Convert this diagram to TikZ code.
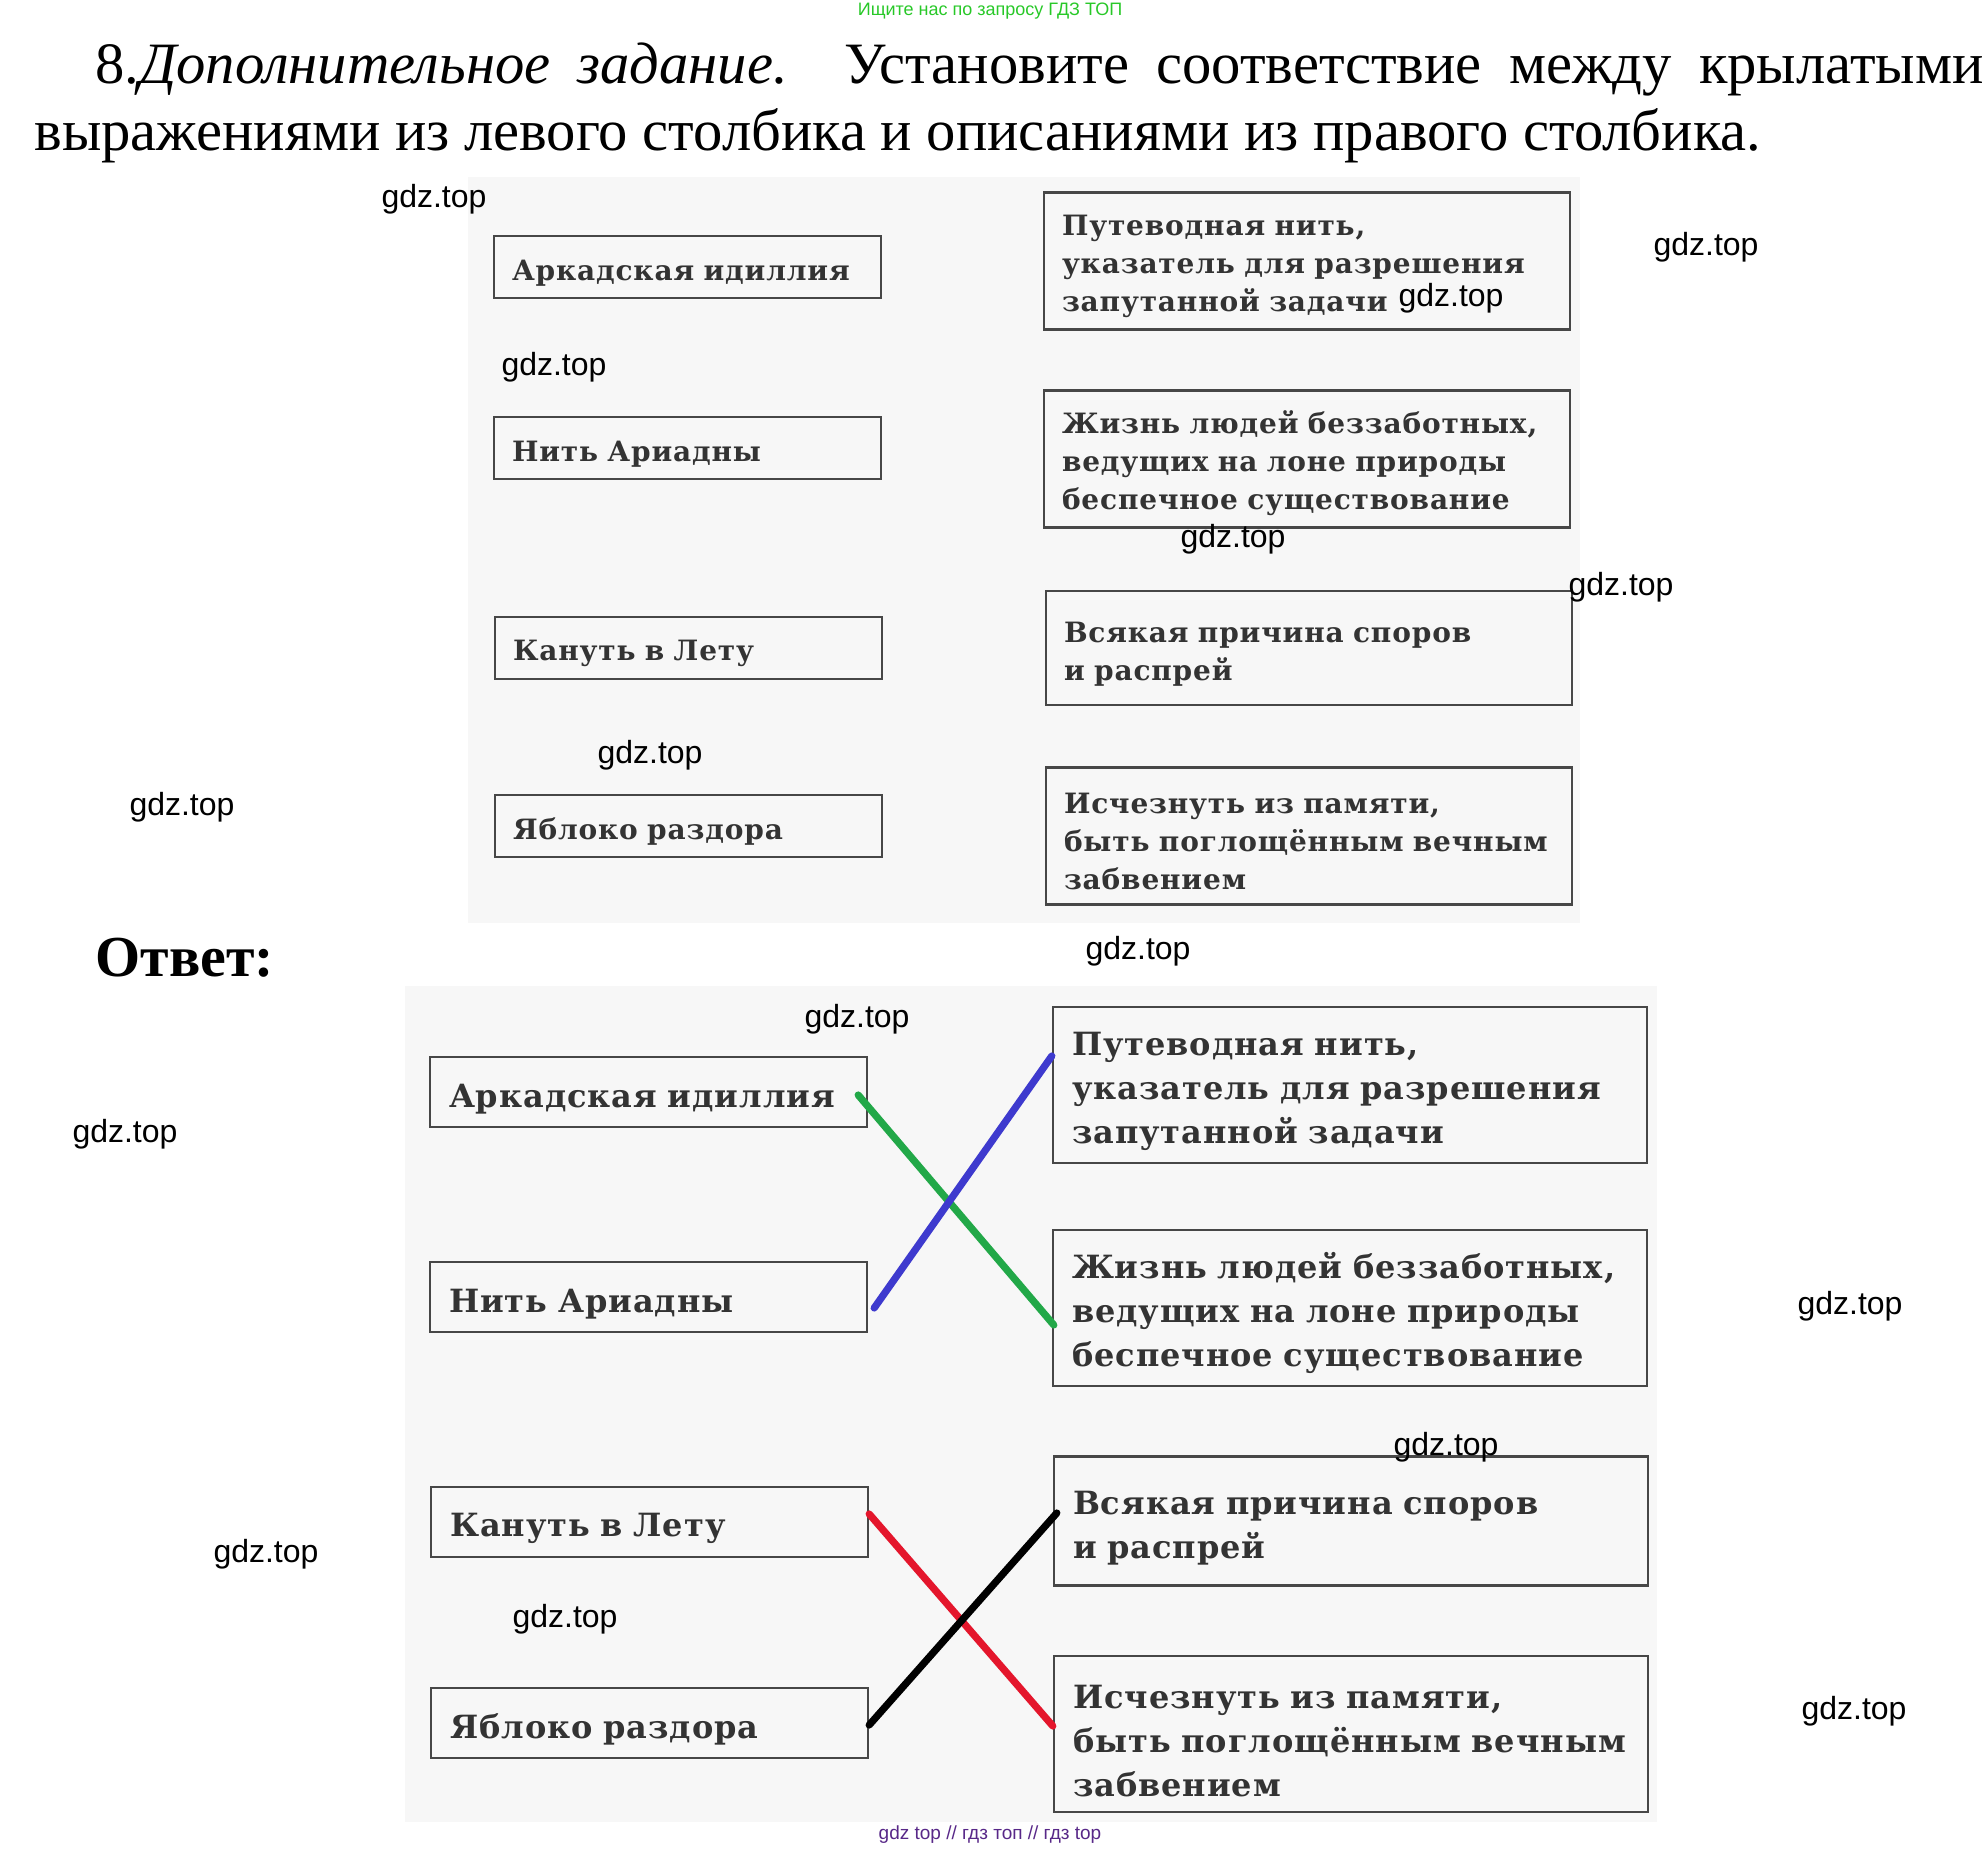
\documentclass[tikz,border=0pt]{standalone}
\usepackage{fontspec}
\setmainfont{Liberation Serif}
\newfontfamily\bookfont[WordSpace=1.6, LetterSpace=3]{DejaVu Serif}
\newfontfamily\markfont{Liberation Sans}
\definecolor{linegreen}{RGB}{34,168,72}
\definecolor{lineblue}{RGB}{62,58,206}
\definecolor{linered}{RGB}{228,22,44}
\definecolor{headgreen}{RGB}{40,200,40}
\definecolor{footpurple}{RGB}{88,40,136}

\begin{document}
\begin{tikzpicture}[
    x=0.5pt, y=-0.5pt,
    page/.style={fill=black!3, draw=none},
    card/.style={rectangle, draw=black!72, line width=1.2pt, align=left,
        text=black!80, inner ysep=0pt, execute at begin node={\rule{0pt}{1.15em}}},
    qleft/.style={card, text width=175.5pt, inner xsep=9pt,
        minimum height=31pt, font=\bookfont\bfseries\fontsize{14}{19}\selectfont},
    qright/.style={card, text width=245pt, inner xsep=9pt,
        minimum height=68.5pt, font=\bookfont\bfseries\fontsize{14}{19}\selectfont},
    aleft/.style={card, text width=199.5pt, inner xsep=9.5pt,
        minimum height=35pt, font=\bookfont\bfseries\fontsize{16}{22}\selectfont},
    aright/.style={card, text width=278pt, inner xsep=9.5pt,
        minimum height=78pt, font=\bookfont\bfseries\fontsize{16}{22}\selectfont},
    stamp/.style={inner sep=0pt, font=\markfont\fontsize{16}{18}\selectfont},
    pair/.style={line width=3.6pt, line cap=round}
]
    \useasboundingbox (0,0) rectangle (1983,1850);
    \fill[page] (468,177) rectangle (1580,923);
    \fill[page] (405,986) rectangle (1657,1822);

    \node[inner sep=0pt, text=headgreen, font=\markfont\fontsize{9}{10}\selectfont] (head) at (990,11) {Ищите нас по запросу ГДЗ ТОП};
    \node[anchor=base west, inner sep=0pt, font=\fontsize{29.3}{35}\selectfont] (title1) at (95,84)
        {\makebox[944pt][s]{8.\textit{Дополнительное задание.} Установите соответствие между крылатыми}};
    \node[anchor=base west, inner sep=0pt, font=\fontsize{29.3}{35}\selectfont] (title2) at (34,151)
        {выражениями из левого столбика и описаниями из правого столбика.};

    % task
    \node[qleft] (qA1) at (687.5,267) {Аркадская идиллия};
    \node[qleft] (qA2) at (687.5,448) {Нить Ариадны};
    \node[qleft] (qA3) at (688.5,648) {Кануть в Лету};
    \node[qleft] (qA4) at (688.5,826) {Яблоко раздора};
    \node[qright] (qB1) at (1307,261) {Путеводная нить,\\указатель для разрешения\\запутанной задачи};
    \node[qright] (qB2) at (1307,459) {Жизнь людей беззаботных,\\ведущих на лоне природы\\беспечное существование};
    \node[qright, minimum height=57pt] (qB3) at (1309,648) {Всякая причина споров\\и распрей};
    \node[qright] (qB4) at (1309,836) {Исчезнуть из памяти,\\быть поглощённым вечным\\забвением};

    \node[anchor=base west, inner sep=0pt, font=\bfseries\fontsize{29}{34}\selectfont] (answer) at (95,976) {Ответ:};

    % answer
    \node[aleft] (aA1) at (648.5,1092) {Аркадская идиллия};
    \node[aleft] (aA2) at (648.5,1297) {Нить Ариадны};
    \node[aleft] (aA3) at (649.5,1522) {Кануть в Лету};
    \node[aleft] (aA4) at (649.5,1723) {Яблоко раздора};
    \node[aright] (aB1) at (1350,1085) {Путеводная нить,\\указатель для разрешения\\запутанной задачи};
    \node[aright] (aB2) at (1350,1308) {Жизнь людей беззаботных,\\ведущих на лоне природы\\беспечное существование};
    \node[aright, minimum height=64.5pt] (aB3) at (1351,1521) {Всякая причина споров\\и распрей};
    \node[aright] (aB4) at (1351,1734) {Исчезнуть из памяти,\\быть поглощённым вечным\\забвением};

    \draw[pair, linegreen] ([xshift=-5pt, yshift=-1.5pt]aA1.east) -- ([xshift=1pt, yshift=-8.5pt]aB2.west);
    \draw[pair, lineblue] ([xshift=3pt, yshift=-5.5pt]aA2.east) -- ([yshift=14.5pt]aB1.west);
    \draw[pair, linered] ([yshift=4pt]aA3.east) -- ([yshift=4pt]aB4.west);
    \draw[pair, black] ([yshift=-1pt]aA4.east) -- ([xshift=2pt, yshift=4pt]aB3.west);

    \foreach \wx/\wy [count=\k] in {434/199, 1706/247, 1451/298, 554/367, 1233/539, 1621/587,
        650/755, 182/807, 1138/951, 857/1019, 125/1134, 1850/1306, 1446/1447,
        266/1554, 565/1619, 1854/1711}
        \node[stamp] (wm\k) at (\wx,\wy) {gdz.top};

    \node[inner sep=0pt, text=footpurple, font=\markfont\fontsize{9.5}{10}\selectfont] (foot) at (990,1835) {gdz top  //  гдз топ  //  гдз top};
\end{tikzpicture}
\end{document}
